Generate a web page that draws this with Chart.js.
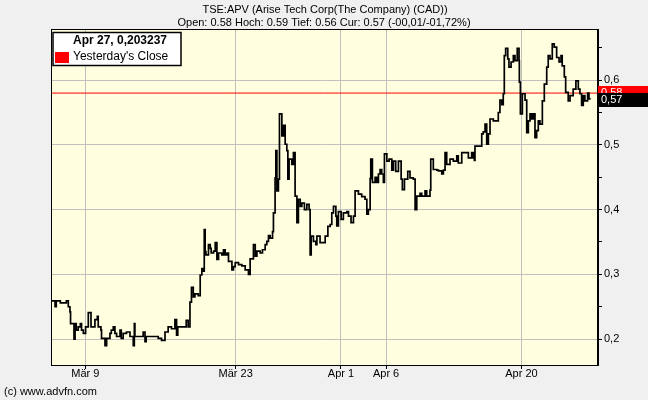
<!DOCTYPE html>
<html>
<head>
<meta charset="utf-8">
<script src="https://cdn.jsdelivr.net/npm/chart.js@4"></script>
<style>
  html, body { margin: 0; padding: 0; background: #f0f0f0; }
  #c { display: block; }
</style>
</head>
<body>
<canvas id="c" width="648" height="400"></canvas>
<script>
// ---- data (trading-day index, Mär 9 = 0) ----
const headerLines = [
  "TSE:APV (Arise Tech Corp(The Company) (CAD))",
  "Open: 0.58 Hoch: 0.59 Tief: 0.56 Cur: 0.57 (-00,01/-01,72%)"
];
const legendTitle = "Apr 27, 0,203237";
const legendLabel = "Yesterday's Close";
const footerText = "(c) www.advfn.com";
const tickDays = [0, 10, 17, 20, 29];
const tickLabels = ["Mär 9", "Mär 23", "Apr 1", "Apr 6", "Apr 20"];
const yesterdayClose = 0.58;
const currentPrice = 0.57;
const dayRange = [-2.28, 34.09];
const priceRange = [0.16, 0.679];
const yTicks = [0.2, 0.25, 0.3, 0.35, 0.4, 0.45, 0.5, 0.55, 0.6, 0.65];

const dayIndex = [
 -2.28,-2.01,-1.93,-1.66,-1.26,-1.13,-1.02,-0.98,-0.75,-0.68,-0.60,-0.47,-0.33,-0.25,-0.13,0.02,0.20,0.38,0.64,0.80,0.86,1.04,1.08,1.31,1.42,1.64,1.73,1.86,1.97,2.08,2.31,2.39,2.52,2.74,2.97,3.19,3.26,3.30,3.74,3.85,3.97,4.05,4.52,4.85,5.07,5.30,5.51,5.73,5.96,6.07,6.15,6.62,6.71,6.84,6.96,7.06,7.18,7.29,7.51,
 7.64,7.75,7.86,7.91,7.97,8.02,8.19,8.31,8.37,8.53,8.64,8.75,8.86,9.08,9.19,9.30,9.42,9.52,9.75,9.85,9.97,10.19,10.41,10.63,10.85,10.96,11.18,11.30,11.41,11.63,11.78,11.96,12.07,12.18,12.29,12.45,12.51,12.62,12.67,12.74,12.84,12.91,13.07,13.18,13.29,13.40,13.47,13.55,13.73,13.84,13.95,14.07,14.17,14.29,14.40,14.57,14.73,14.88,14.95,15.02,15.17,15.33,15.40,15.61,15.83,15.95,16.13,16.28,16.39,16.50,
 16.66,16.72,16.83,17.01,17.16,17.39,17.50,17.67,17.83,17.94,18.16,18.38,18.60,18.72,18.82,18.94,18.98,19.09,19.27,19.38,19.49,19.60,19.71,19.82,19.89,20.05,20.20,20.38,20.49,20.64,20.82,21.00,21.08,21.22,21.44,21.59,21.81,21.93,22.04,22.26,22.37,22.59,22.70,22.92,22.97,23.14,23.37,23.48,23.70,23.81,23.92,24.03,24.25,24.47,24.70,24.80,25.03,25.25,25.47,25.69,25.80,25.87,
 25.91,26.25,26.36,26.46,26.58,26.69,26.80,26.91,27.13,27.35,27.46,27.57,27.69,27.79,27.86,27.95,28.09,28.17,28.31,28.46,28.57,28.72,28.84,28.86,28.93,29.06,29.24,29.35,29.46,29.57,29.68,29.79,29.90,30.01,30.12,30.23,30.39,30.52,30.68,30.78,30.90,31.05,31.18,31.34,31.50,31.63,31.71,31.85,31.94,32.11,32.23,32.34,32.44,32.62,32.78,32.89,33.00,33.11,33.22,33.40,33.49,33.60
];
const price = [
 0.259,0.250,0.259,0.256,0.259,0.250,0.242,0.224,0.200,0.224,0.214,0.219,0.224,0.214,0.209,0.219,0.241,0.219,0.230,0.235,0.219,0.214,0.201,0.190,0.201,0.209,0.214,0.219,0.209,0.204,0.214,0.201,0.209,0.211,0.204,0.190,0.224,0.204,0.204,0.211,0.196,0.204,0.204,0.201,0.198,0.211,0.219,0.216,0.230,0.206,0.219,0.219,0.229,0.219,0.257,0.280,0.265,0.270,0.267,
 0.299,0.309,0.305,0.369,0.335,0.330,0.346,0.340,0.333,0.336,0.349,0.323,0.333,0.330,0.338,0.330,0.333,0.320,0.307,0.312,0.318,0.315,0.313,0.307,0.300,0.324,0.346,0.328,0.336,0.333,0.338,0.346,0.351,0.360,0.356,0.366,0.395,0.449,0.491,0.429,0.447,0.548,0.514,0.530,0.501,0.491,0.447,0.478,0.470,0.488,0.421,0.380,0.416,0.405,0.410,0.400,0.408,0.400,0.330,0.359,0.351,0.346,0.359,0.349,0.349,0.359,0.374,0.377,0.395,0.405,
 0.390,0.375,0.397,0.385,0.395,0.397,0.390,0.380,0.390,0.429,0.424,0.420,0.416,0.393,0.400,0.448,0.478,0.442,0.450,0.442,0.455,0.462,0.455,0.442,0.486,0.475,0.478,0.461,0.475,0.459,0.475,0.447,0.431,0.447,0.459,0.449,0.447,0.400,0.421,0.425,0.421,0.429,0.421,0.430,0.478,0.462,0.461,0.460,0.455,0.461,0.488,0.470,0.478,0.475,0.483,0.472,0.488,0.488,0.480,0.488,0.480,0.476,
 0.498,0.498,0.517,0.520,0.532,0.501,0.517,0.540,0.537,0.537,0.550,0.569,0.562,0.579,0.638,0.649,0.633,0.620,0.628,0.638,0.630,0.649,0.630,0.597,0.548,0.579,0.569,0.519,0.537,0.548,0.540,0.548,0.511,0.522,0.537,0.532,0.568,0.594,0.620,0.638,0.633,0.656,0.651,0.635,0.628,0.638,0.622,0.605,0.581,0.568,0.576,0.576,0.586,0.599,0.586,0.579,0.561,0.576,0.568,0.580,0.571,0.571
];

// ---- styles ----
const FONT = "'Liberation Sans', Arial, sans-serif";
const PLOT_BG = "#ffffe0";
const GRID = "#c0c0c0";

const fmt = v => v.toFixed(2).replace('.', ',');

const decor = {
  id: 'decor',
  beforeDraw(chart) {
    const { ctx, chartArea: a } = chart;
    ctx.save();
    ctx.fillStyle = '#f0f0f0';
    ctx.fillRect(0, 0, chart.width, chart.height);
    ctx.fillStyle = PLOT_BG;
    ctx.fillRect(a.left, a.top, a.right - a.left, a.bottom - a.top);
    ctx.restore();
  },
  afterDraw(chart) {
    const { ctx, chartArea: a, scales } = chart;
    ctx.save();
    // frame
    ctx.strokeStyle = '#000';
    ctx.lineWidth = 1;
    ctx.strokeRect(Math.round(a.left) + 0.5, Math.round(a.top) + 0.5, Math.round(a.right - a.left) - 1, Math.round(a.bottom - a.top));
    // header
    ctx.fillStyle = '#000';
    ctx.font = '11px ' + FONT;
    ctx.textAlign = 'center';
    ctx.textBaseline = 'middle';
    ctx.fillText(headerLines[0], 325, 10);
    ctx.fillText(headerLines[1], 324, 23);
    // footer
    ctx.textAlign = 'left';
    ctx.fillText(footerText, 4, 392);
    // legend box
    ctx.fillStyle = '#fff';
    ctx.fillRect(53, 32, 128, 33);
    ctx.strokeStyle = '#000';
    ctx.lineWidth = 1.5;
    ctx.strokeRect(53, 32.5, 128, 33);
    ctx.fillStyle = '#000';
    ctx.font = 'bold 12px ' + FONT;
    ctx.textAlign = 'center';
    ctx.fillText(legendTitle, 120, 41);
    ctx.fillStyle = '#ff0000';
    ctx.fillRect(55, 52, 14, 11);
    ctx.fillStyle = '#000';
    ctx.font = '12px ' + FONT;
    ctx.textAlign = 'left';
    ctx.fillText(legendLabel, 73, 57);
    // right value boxes
    const y = scales.y;
    const yc = Math.round(y.getPixelForValue(yesterdayClose));
    const yp = Math.round(y.getPixelForValue(currentPrice));
    ctx.font = '11px ' + FONT;
    ctx.fillStyle = '#ff0000';
    ctx.fillRect(a.right, yc - 7, chart.width - a.right, 14);
    ctx.fillStyle = '#fff';
    ctx.fillText(fmt(yesterdayClose), a.right + 3, yc);
    ctx.fillStyle = '#000';
    ctx.fillRect(a.right, yp - 7, chart.width - a.right, 14);
    ctx.fillStyle = '#fff';
    ctx.fillText(fmt(currentPrice), a.right + 3, yp);
    ctx.restore();
  }
};

const isMajor = v => Math.abs(v * 10 - Math.round(v * 10)) < 1e-6;

new Chart(document.getElementById('c'), {
  type: 'line',
  data: {
    datasets: [
      {
        label: 'price',
        data: dayIndex.map((d, i) => ({ x: d, y: price[i] })),
        borderColor: '#000',
        borderWidth: 1.7,
        pointRadius: 0,
        stepped: true,
        fill: false,
        order: 0
      },
      {
        label: legendLabel,
        data: [{ x: dayRange[0], y: yesterdayClose }, { x: dayRange[1], y: yesterdayClose }],
        borderColor: '#ff0000',
        borderWidth: 1,
        pointRadius: 0,
        order: 1
      }
    ]
  },
  options: {
    responsive: false,
    animation: false,
    events: [],
    layout: { padding: { left: 51, top: 29, right: 0, bottom: 0 } },
    plugins: { legend: { display: false }, tooltip: { enabled: false }, title: { display: false } },
    scales: {
      x: {
        type: 'linear',
        min: dayRange[0],
        max: dayRange[1],
        afterBuildTicks: s => { s.ticks = tickDays.map(v => ({ value: v })); },
        afterFit: s => { s.height = 35; },
        ticks: {
          autoSkip: false,
          maxRotation: 0,
          color: '#000',
          font: { family: FONT, size: 11 },
          padding: -2,
          callback: v => tickLabels[tickDays.indexOf(v)] ?? ''
        },
        grid: { color: GRID, tickColor: '#000', tickLength: 4, lineWidth: 1 },
        border: { color: '#000', width: 1 }
      },
      y: {
        position: 'right',
        min: priceRange[0],
        max: priceRange[1],
        afterBuildTicks: s => { s.ticks = yTicks.map(v => ({ value: v })); },
        afterFit: s => { s.width = 50; },
        ticks: {
          color: '#000',
          font: { family: FONT, size: 11 },
          padding: 2,
          callback: v => isMajor(v) ? v.toFixed(1).replace('.', ',') : ''
        },
        grid: {
          color: c => (c.tick && isMajor(c.tick.value)) ? GRID : 'rgba(0,0,0,0)',
          tickColor: '#000',
          tickLength: 4,
          lineWidth: 1
        },
        border: { color: '#000', width: 1 }
      }
    }
  },
  plugins: [decor]
});
</script>
</body>
</html>
